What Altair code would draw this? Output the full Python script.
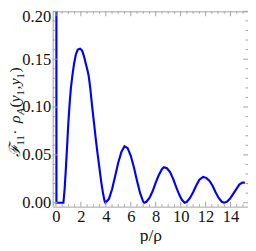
import altair as alt
import pandas as pd

# curve
xs = [0.03, 0.04, 0.60, 0.70, 0.78, 0.90, 0.99, 1.10, 1.20, 1.32, 1.45, 1.60, 1.75, 1.94,
      2.10, 2.25, 2.40, 2.52, 2.62, 2.75, 2.90, 3.06, 3.20, 3.35, 3.53, 3.65, 3.80, 3.90, 3.97,
      4.25, 4.50, 4.75, 5.00, 5.25, 5.50, 5.75, 6.00, 6.25, 6.50, 6.75, 7.00, 7.08,
      7.25, 7.50, 7.75, 8.00, 8.25, 8.50, 8.65, 8.90, 9.15, 9.40, 9.65, 9.90, 10.10, 10.32,
      10.50, 10.75, 11.00, 11.25, 11.50, 11.80, 12.05, 12.30, 12.55, 12.80, 13.05, 13.30, 13.48,
      13.70, 13.95, 14.20, 14.45, 14.70, 14.95, 15.15]
ys = [0.50, 0.0, 0.0, 0.015, 0.032, 0.060, 0.0825, 0.104, 0.120, 0.133, 0.145, 0.155, 0.160, 0.161,
      0.159, 0.153, 0.145, 0.139, 0.133, 0.120, 0.101, 0.0825, 0.066, 0.050, 0.032, 0.020, 0.008, 0.002, 0.0,
      0.004, 0.014, 0.028, 0.042, 0.053, 0.059, 0.057, 0.049, 0.037, 0.023, 0.010, 0.001, 0.0,
      0.001, 0.005, 0.012, 0.021, 0.029, 0.035, 0.037, 0.036, 0.032, 0.025, 0.016, 0.008, 0.003, 0.0,
      0.001, 0.005, 0.011, 0.018, 0.024, 0.027, 0.026, 0.023, 0.018, 0.011, 0.005, 0.001, 0.0,
      0.001, 0.004, 0.009, 0.014, 0.019, 0.021, 0.021]

x_major = [0, 2, 4, 6, 8, 10, 12, 14]
x_minor = [0.5, 1, 1.5, 2.5, 3, 3.5, 4.5, 5, 5.5, 6.5, 7, 7.5, 8.5, 9, 9.5, 10.5, 11, 11.5,
           12.5, 13, 13.5, 14.5, 15]
y_major = [0.0, 0.05, 0.10, 0.15, 0.20]
y_minor = [0.01, 0.02, 0.03, 0.04, 0.06, 0.07, 0.08, 0.09, 0.11, 0.12, 0.13, 0.14,
           0.16, 0.17, 0.18, 0.19]

W, H = 201, 201
FONT = "Liberation Serif"
GRAY = "#a0a0a0"

xscale = alt.Scale(domain=[-0.26, 15.4], nice=False, zero=False)
yscale = alt.Scale(domain=[-0.0041, 0.2], nice=False, zero=False)

xaxis = alt.Axis(values=x_major, ticks=False, domain=False, grid=False,
                 labelFont=FONT, labelFontSize=17, labelColor="#111",
                 labelPadding=2, title="p/ρ", titleFont=FONT, titleFontSize=18,
                 titleFontWeight="normal", titleColor="#111", titlePadding=3)
yaxis = alt.Axis(values=y_major, format=".2f", ticks=False, domain=False, grid=False,
                 labelFont=FONT, labelFontSize=17, labelColor="#111",
                 labelPadding=2, title=None,
                 labelOffset={"condition": {"test": "datum.value >= 0.199", "value": 5},
                              "value": 0})

curve = pd.DataFrame({"x": xs, "y": ys})

line = alt.Chart(curve).mark_line(color="#0000ff", strokeWidth=2.2, clip=True).encode(
    x=alt.X("x:Q", scale=xscale, axis=xaxis),
    y=alt.Y("y:Q", scale=yscale, axis=yaxis),
)

xmaj = pd.DataFrame({"t": x_major})
xmin = pd.DataFrame({"t": x_minor})
ymaj = pd.DataFrame({"t": y_major})
ymin = pd.DataFrame({"t": y_minor})

def xticks(df, length):
    b = alt.Chart(df).mark_rule(color=GRAY, strokeWidth=1).encode(
        x=alt.X("t:Q", scale=xscale, axis=xaxis), y=alt.value(H), y2=alt.value(H - length))
    t = alt.Chart(df).mark_rule(color=GRAY, strokeWidth=1).encode(
        x=alt.X("t:Q", scale=xscale, axis=xaxis), y=alt.value(0), y2=alt.value(length))
    return [b, t]

def yticks(df, length):
    l = alt.Chart(df).mark_rule(color=GRAY, strokeWidth=1).encode(
        y=alt.Y("t:Q", scale=yscale, axis=yaxis), x=alt.value(0), x2=alt.value(length))
    r = alt.Chart(df).mark_rule(color=GRAY, strokeWidth=1).encode(
        y=alt.Y("t:Q", scale=yscale, axis=yaxis), x=alt.value(W), x2=alt.value(W - length))
    return [l, r]

ticks = xticks(xmaj, 5) + xticks(xmin, 2.5) + yticks(ymaj, 5) + yticks(ymin, 2.5)

# y-axis title built from pieces (rotated), bottom to top
pieces = [("ℱ", 16, 0, 12, "italic"), ("11", 11, 4, 11, "normal"),
          (" · ", 16, 0, 12, "normal"), ("ρ", 16, 0, 8.5, "italic"),
          ("A", 11, 4, 7.5, "italic"), ("(", 16, 0, 5.5, "normal"), ("y", 16, 0, 7, "italic"),
          ("1", 11, 4, 6, "normal"), (",", 16, 0, 4.5, "normal"), ("y", 16, 0, 7, "italic"),
          ("1", 11, 4, 6, "normal"), (")", 16, 0, 5.5, "normal")]
title_layers = []
ypos = 158.0
base_x = 20.5 - 54
for txt, fs, dx, w, st in pieces:
    title_layers.append(
        alt.Chart(pd.DataFrame({"s": [txt]})).mark_text(
            angle=270, align="left", baseline="alphabetic", font=FONT, fontSize=fs,
            fontStyle=st, color="#111").encode(
            text="s:N", x=alt.value(base_x + dx), y=alt.value(ypos - 8)))
    ypos -= w

chart = alt.layer(line, *ticks, *title_layers).properties(
    width=W, height=H, autosize="none",
    padding={"left": 46, "top": 0, "right": 0, "bottom": 35},
).configure_view(stroke=GRAY, strokeWidth=1)

chart.save("out.html", embed_options={"renderer": "svg", "actions": False})
